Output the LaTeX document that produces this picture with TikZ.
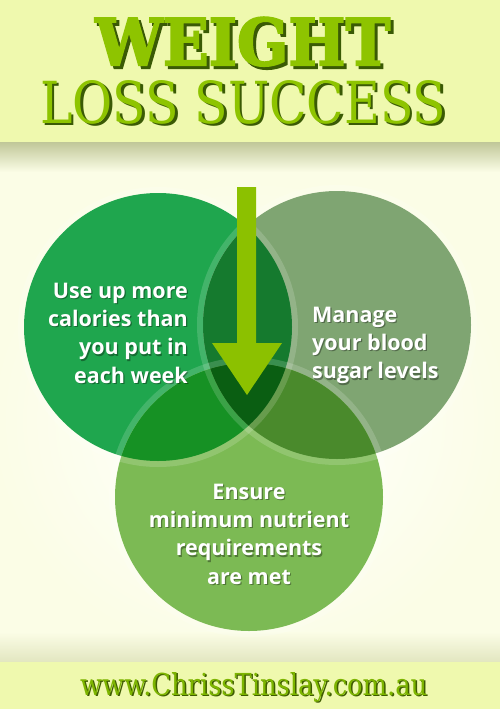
\documentclass[tikz,border=0pt]{standalone}
\usepackage{fontspec}
\setmainfont{Open Sans}
\newfontfamily\slabheavy{DejaVu Serif Bold}[FakeBold=3]
\newfontfamily\slablight{DejaVu Serif}
\usetikzlibrary{shapes.geometric}
\definecolor{cL}{HTML}{1FA64E}
\definecolor{cR}{HTML}{7FA572}
\definecolor{cB}{HTML}{7CBA54}
\definecolor{cLR}{HTML}{157A2E}
\definecolor{cLB}{HTML}{169124}
\definecolor{cRB}{HTML}{4A8A2C}
\definecolor{cLRB}{HTML}{0A5E12}
\definecolor{arrowc}{HTML}{8CC100}
\definecolor{banner}{HTML}{EFF9AE}
\definecolor{cream}{HTML}{FBFDE6}
\definecolor{creamdark}{HTML}{E2E6C0}
\definecolor{bandshadow}{HTML}{C0C798}
\definecolor{titleg}{HTML}{8EC400}
\definecolor{titlesh}{HTML}{3A5A05}
\definecolor{footg}{HTML}{7DB500}
\definecolor{footsh}{HTML}{3E5C00}
\tikzset{
  bodytext/.style={text=white, inner sep=0pt, font=\bfseries\fontsize{21.5}{28.2}\selectfont},
  bodyshadow/.style={text=black, text opacity=0.35, inner sep=0pt, font=\bfseries\fontsize{21.5}{28.2}\selectfont},
  halo/.style={draw=white, draw opacity=0.16, line width=6pt},
}
\begin{document}
\begin{tikzpicture}[x=1pt,y=-1pt]
\useasboundingbox (0,0) rectangle (500,709);
% backgrounds
\fill[cream] (0,0) rectangle (500,709);
\shade[inner color=white, outer color=cream] (250,420) ellipse (260 and 240);
\fill[banner] (0,0) rectangle (500,142);
\shade[top color=bandshadow, bottom color=cream] (0,142) rectangle (500,172);
\shade[top color=cream, bottom color=creamdark] (0,632) rectangle (500,662);
\fill[banner] (0,662) rectangle (500,709);
% circles
\coordinate (cl) at (158,327);
\coordinate (cr) at (337,325);
\coordinate (cb) at (249,497);
\fill[cL] (cl) circle[radius=134];
\fill[cR] (cr) circle[radius=134];
\fill[cB] (cb) circle[radius=134];
\begin{scope}
  \clip (cl) circle[radius=134];
  \fill[cLR] (cr) circle[radius=134];
  \fill[cLB] (cb) circle[radius=134];
\end{scope}
\begin{scope}
  \clip (cr) circle[radius=134];
  \fill[cRB] (cb) circle[radius=134];
\end{scope}
\begin{scope}
  \clip (cl) circle[radius=134];
  \clip (cr) circle[radius=134];
  \fill[cLRB] (cb) circle[radius=134];
\end{scope}
\draw[halo] (cl) circle[radius=137];
\draw[halo] (cr) circle[radius=137];
\draw[halo] (cb) circle[radius=137];
% arrow
\fill[arrowc] (237,187) -- (256,187) -- (256,343) -- (282,343) -- (247,395) -- (212,343) -- (237,343) -- cycle;
% circle texts
\node[bodyshadow, align=right, anchor=north east] (tls) at (189.2,284.2) {Use up more\\calories than\\you put in\\each week};
\node[bodytext, align=right, anchor=north east] (tl) at (188,283) {Use up more\\calories than\\you put in\\each week};
\node[bodyshadow, align=left, anchor=north west] (trs) at (313.2,308.2) {Manage\\your blood\\sugar levels};
\node[bodytext, align=left, anchor=north west] (tr) at (312,307) {Manage\\your blood\\sugar levels};
\node[bodyshadow, align=center, anchor=north] (tbs) at (250.2,485.2) {Ensure\\minimum nutrient\\requirements\\are met};
\node[bodytext, align=center, anchor=north] (tb) at (249,484) {Ensure\\minimum nutrient\\requirements\\are met};
% title
\node[anchor=north west, inner sep=0pt, text=titlesh] (t1s) at (98,20) {\resizebox{295pt}{48pt}{\slabheavy WEIGHT}};
\node[anchor=north west, inner sep=0pt, text=titleg] (t1) at (95,17) {\resizebox{295pt}{48pt}{\slabheavy WEIGHT}};
\node[anchor=north west, inner sep=0pt, text=titlesh] (t2s) at (42.5,82.5) {\resizebox{406pt}{43pt}{\slablight LOSS SUCCESS}};
\node[anchor=north west, inner sep=0pt, text=titleg] (t2) at (40,80) {\resizebox{406pt}{43pt}{\slablight LOSS SUCCESS}};
% footer
\node[anchor=north west, inner sep=0pt, text=footsh] (fs) at (81.5,673.5) {\resizebox{347pt}{23pt}{\slablight www.ChrissTinslay.com.au}};
\node[anchor=north west, inner sep=0pt, text=footg] (f) at (80,672) {\resizebox{347pt}{23pt}{\slablight www.ChrissTinslay.com.au}};
\end{tikzpicture}
\end{document}
